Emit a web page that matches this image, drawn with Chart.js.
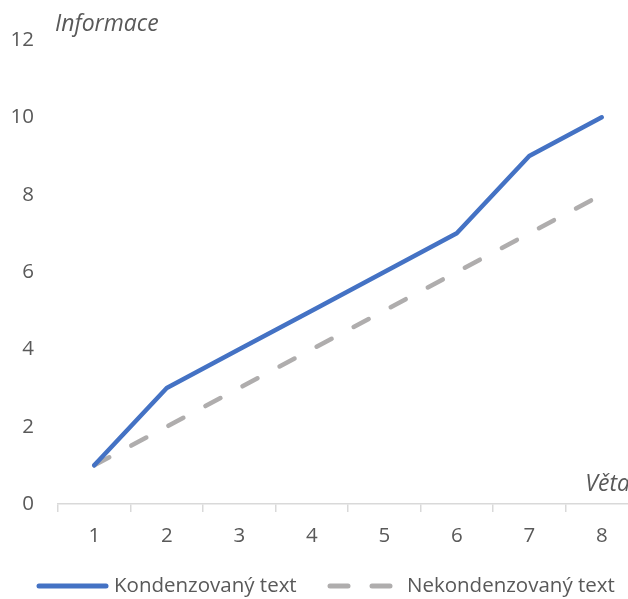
<!DOCTYPE html>
<html>
<head>
<meta charset="utf-8">
<script src="https://cdn.jsdelivr.net/npm/chart.js@4.4.1/dist/chart.umd.min.js"></script>
<style>
html,body{margin:0;padding:0;background:#fff;overflow:hidden;}
#wrap{position:relative;width:640px;height:599px;}
</style>
</head>
<body>
<div id="wrap"><canvas id="c" width="640" height="599"></canvas></div>
<script>
const categories = ['1','2','3','4','5','6','7','8'];
const seriesNames = ['Kondenzovaný text','Nekondenzovaný text'];
const kondenzovany = [1,3,4,5,6,7,9,10];
const nekondenzovany = [1,2,3,4,5,6,7,8];
const yTitle = 'Informace';
const xTitle = 'Věta';
const yMin = 0, yMax = 12, yStep = 2;

const FONT = "'Open Sans', sans-serif";
const TXT = '#595959';
const BLUE = '#4472C4';
const GRAY = '#AFADAD';

const extras = {
  id: 'extras',
  afterDraw(chart) {
    const ctx = chart.ctx;
    ctx.save();
    ctx.fillStyle = TXT;
    ctx.font = "italic 23px " + FONT;
    ctx.textBaseline = 'middle';
    ctx.textAlign = 'left';
    ctx.fillText(yTitle, 55, 24);
    ctx.textAlign = 'right';
    ctx.fillText(xTitle, 630, 484);
    // legend
    const ly = 586;
    ctx.lineCap = 'round';
    ctx.lineWidth = 5;
    ctx.strokeStyle = BLUE;
    ctx.beginPath(); ctx.moveTo(39, ly); ctx.lineTo(106, ly); ctx.stroke();
    ctx.strokeStyle = GRAY;
    ctx.beginPath(); ctx.moveTo(330, ly); ctx.lineTo(348, ly); ctx.stroke();
    ctx.beginPath(); ctx.moveTo(372, ly); ctx.lineTo(390, ly); ctx.stroke();
    ctx.fillStyle = TXT;
    ctx.font = "20.5px " + FONT;
    ctx.textAlign = 'left';
    ctx.fillText(chart.data.datasets[0].label, 114, ly);
    ctx.fillText(chart.data.datasets[1].label, 407, ly);
    ctx.restore();
  }
};

new Chart(document.getElementById('c'), {
  type: 'line',
  data: {
    labels: categories,
    datasets: [
      { label: seriesNames[0], data: kondenzovany, borderColor: BLUE, borderWidth: 4.5,
        pointRadius: 0, tension: 0, fill: false, borderCapStyle: 'round', borderJoinStyle: 'round' },
      { label: seriesNames[1], data: nekondenzovany, borderColor: GRAY, borderWidth: 4.5,
        borderDash: [17, 25], pointRadius: 0, tension: 0, fill: false, borderCapStyle: 'round' }
    ]
  },
  options: {
    responsive: false,
    animation: false,
    events: [],
    layout: { padding: { top: 40, right: 2, bottom: 55, left: 0 } },
    plugins: { legend: { display: false }, tooltip: { enabled: false } },
    scales: {
      x: {
        type: 'category',
        offset: true,
        grid: { display: true, drawOnChartArea: false, drawTicks: true, tickLength: 8,
                color: '#D9D9D9', lineWidth: 1.5, offset: true },
        border: { display: true, color: '#D9D9D9', width: 1.5 },
        ticks: { color: TXT, font: { family: FONT, size: 20.5 }, padding: 12, maxRotation: 0 },
        afterFit(s) { s.height = 40; }
      },
      y: {
        min: yMin, max: yMax,
        grid: { display: false, drawTicks: false },
        border: { display: false },
        ticks: { stepSize: yStep, color: TXT, font: { family: FONT, size: 20.5 }, padding: 24 },
        afterFit(s) { s.width = 58; }
      }
    }
  },
  plugins: [extras]
});
</script>
</body>
</html>
